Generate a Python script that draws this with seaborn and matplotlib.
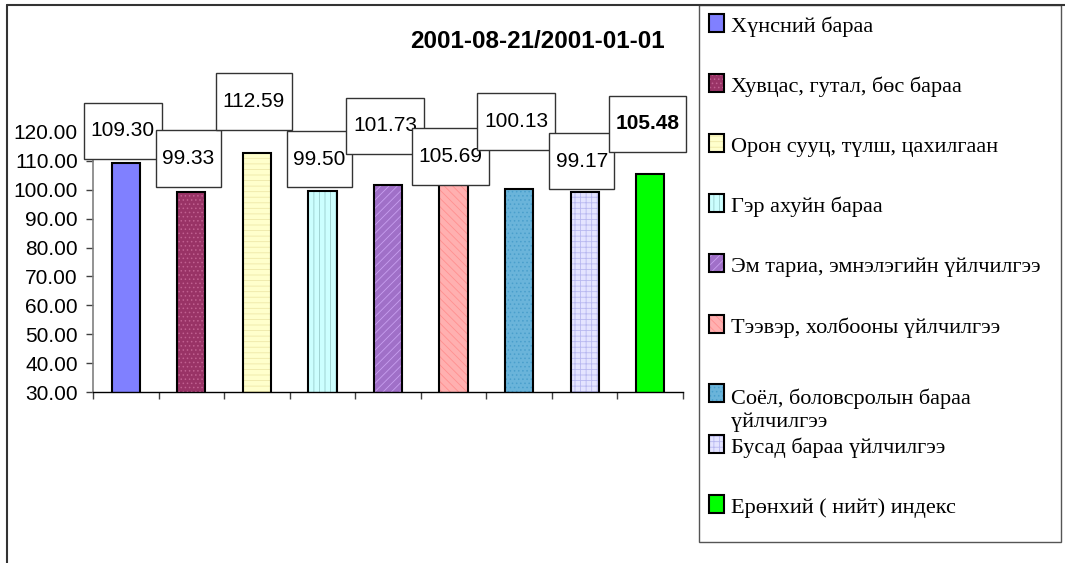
import numpy as np
import pandas as pd
import matplotlib
matplotlib.use("Agg")
import matplotlib.pyplot as plt
from matplotlib.patches import Rectangle
from matplotlib.lines import Line2D
from matplotlib.path import Path
from matplotlib.ticker import FormatStrFormatter
import seaborn as sns

# data
categories = [
    "Хүнсний бараа",
    "Хувцас, гутал, бөс бараа",
    "Орон сууц, түлш, цахилгаан",
    "Гэр ахуйн бараа",
    "Эм тариа, эмнэлэгийн үйлчилгээ",
    "Тээвэр, холбооны үйлчилгээ",
    "Соёл, боловсролын бараа\nүйлчилгээ",
    "Бусад бараа үйлчилгээ",
    "Ерөнхий ( нийт) индекс",
]
values = [109.30, 99.33, 112.59, 99.50, 101.73, 105.69, 100.13, 99.17, 105.48]
title = "2001-08-21/2001-01-01"
yticks = [30, 40, 50, 60, 70, 80, 90, 100, 110, 120]

# styles
face_colors = ["#8080FF", "#993366", "#FFFFCC", "#CCFFFF", "#A070C8",
               "#FFB0B0", "#6AB4DA", "#E4E4FF", "#00FF00"]
hatch_colors = ["#8080FF", "#C06090", "#EEE8A8", "#99CCCC", "#C8A0F0",
                "#FF9090", "#4A9FCC", "#B8B8F0", "#00FF00"]
hatches = [None, "....", "---", "|||", "////", "\\\\\\\\", "....", "+++", None]
# label offsets above bar top, in pixels (Excel's manual placement)
label_dy = [32, 33, 52, 32, 59, 17, 68, 31, 50]

W, H = 1065, 563
def fx(px):
    return px / W
def fy(py):
    return 1 - py / H

sns.set_theme(style="white")
plt.rcParams["font.family"] = ["Liberation Sans", "DejaVu Sans"]
plt.rcParams["text.color"] = "black"
plt.rcParams["hatch.linewidth"] = 0.6

fig = plt.figure(figsize=(W / 100, H / 100), dpi=100)
fig.patch.set_facecolor("white")
ax = fig.add_axes([fx(93), fy(392), (683 - 93) / W, (392 - 132) / H])

df = pd.DataFrame({"cat": categories, "val": values})
sns.barplot(data=df, x="cat", y="val", hue="cat", palette=face_colors,
            width=0.43, legend=False, ax=ax, saturation=1)

# hatch fill + black outline on top
for patch, fc, hc, h in zip(ax.patches[:len(values)], face_colors, hatch_colors, hatches):
    patch.set_facecolor(fc)
    patch.set_edgecolor(hc)
    patch.set_linewidth(0)
    if h:
        patch.set_hatch(h)
    x, y = patch.get_x(), patch.get_y()
    ax.add_patch(Rectangle((x, y), patch.get_width(), patch.get_height(),
                           fill=False, ec="black", lw=1.5, zorder=3))

ax.set_ylim(30, 120)
ax.set_xlim(-0.5, len(values) - 0.5)
ax.set_yticks(yticks)
ax.yaxis.set_major_formatter(FormatStrFormatter("%.2f"))
ax.set_xticks(np.arange(-0.5, len(values), 1))
ax.set_xticklabels([])
ax.set_xlabel("")
ax.set_ylabel("")
ax.tick_params(axis="y", left=True, direction="out", length=5, width=1,
               color="#404040", labelsize=15, pad=6, labelcolor="black")
ax.tick_params(axis="x", bottom=True, direction="out", length=5, width=1,
               color="#404040")
for s in ["top", "right"]:
    ax.spines[s].set_visible(False)
ax.spines["left"].set_color("#808080")
ax.spines["left"].set_linewidth(1.2)
ax.spines["bottom"].set_color("black")
ax.spines["bottom"].set_linewidth(1)
ax.set_facecolor("none")


def label_box(x0, y0, width, height, mutation_size):
    px = 0.32 * mutation_size
    py = 0.9 * mutation_size
    verts = [(x0 - px, y0 - py), (x0 + width + px, y0 - py),
             (x0 + width + px, y0 + height + py), (x0 - px, y0 + height + py),
             (x0 - px, y0 - py)]
    return Path(verts, closed=True)


for i, (v, dy) in enumerate(zip(values, label_dy)):
    ax.annotate(f"{v:.2f}", xy=(i, v), xytext=(-3, dy), textcoords="offset pixels",
                ha="center", va="center", fontsize=15, color="black",
                fontweight="bold" if i == len(values) - 1 else "normal",
                bbox=dict(boxstyle=label_box, fc="white", ec="#333333", lw=1),
                zorder=5, annotation_clip=False)

fig.text(fx(537), fy(42), title, ha="center", va="center",
         fontsize=17.5, fontweight="bold", color="black")

# outer chart frame
fig.add_artist(Line2D([fx(7), fx(7)], [fy(5), 0], color="#333333", lw=1.5))
fig.add_artist(Line2D([fx(7), 1], [fy(5), fy(5)], color="#333333", lw=1.5))

# legend box, drawn by hand to follow Excel's row layout
fig.add_artist(Rectangle((fx(699), fy(542)), (1061 - 699) / W, (542 - 5) / H,
                         transform=fig.transFigure, fc="white", ec="#555555", lw=1,
                         zorder=1))
row_top, row_step, line_gap = 32, 60.1, 25
for i, (lab, fc, hc, h) in enumerate(zip(categories, face_colors, hatch_colors, hatches)):
    nlines = lab.count("\n") + 1
    base = row_top + i * row_step + (9 if nlines > 1 else 0)
    sw = Rectangle((fx(709), fy(base)), 15 / W, 18 / H, transform=fig.transFigure,
                   fc=fc, ec=hc, lw=0, hatch=h, zorder=2)
    fig.add_artist(sw)
    fig.add_artist(Rectangle((fx(709), fy(base)), 15 / W, 18 / H,
                             transform=fig.transFigure, fill=False, ec="black",
                             lw=1.5, zorder=3))
    fig.text(fx(731), fy(base + line_gap * (nlines - 1)), lab, ha="left",
             va="baseline", fontsize=16, color="black",
             family=["Liberation Serif", "DejaVu Serif"], linespacing=1.2, zorder=3)

fig.savefig("out.png", dpi=100, facecolor="white")
